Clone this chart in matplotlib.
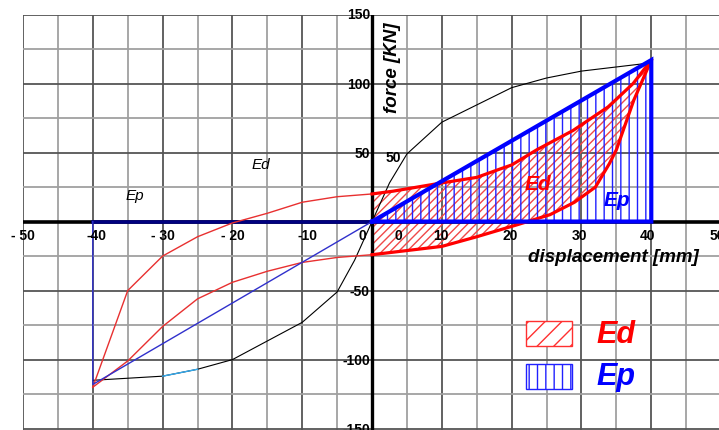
import numpy as np
import matplotlib
matplotlib.use("Agg")
import matplotlib.pyplot as plt
from matplotlib.patches import Rectangle

plt.rcParams['font.family'] = ['Liberation Sans', 'DejaVu Sans']
plt.rcParams['hatch.linewidth'] = 1.0

##############################################################################
# dados (displacement [mm], force [KN])

# curva envoltoria (preta)
env_x = [-40, -30, -25, -20, -10, -5, -2.5, 0, 2.5, 5, 10, 20, 25, 30, 35, 40]
env_y = [-115, -112, -107, -100, -73, -51, -28, 0, 28, 49, 72, 97, 104, 109, 112, 115]
# trecho azul claro da envoltoria
env_cyan_x = [-30, -25]
env_cyan_y = [-112, -107]

# laco esquerdo (vermelho fino)
left_up_x = [-40, -35, -30, -25, -20, -15, -10, -5, 0]
left_up_y = [-120, -50, -25, -11, -1, 6, 14, 18, 20]
left_dn_x = [0, -5, -10, -15, -20, -25, -30, -35, -40]
left_dn_y = [-24, -26, -29.6, -36, -44, -56, -76, -101, -120]

# laco direito (vermelho grosso) -> area Ed
right_up_x = [0, 3, 10, 15, 18.3, 20, 23.6, 28.8, 33.8, 37.4, 40]
right_up_y = [20, 22, 28, 32, 38, 41, 52, 66, 83, 100, 117]
right_dn_x = [40, 37.5, 35, 34, 32, 29, 25.5, 21, 15, 10, 5, 0]
right_dn_y = [117, 88, 52, 42, 25, 14, 5, -2, -11, -18, -21, -24]

# triangulo Ep
ep_x = [0, 40, 40]
ep_y = [0, 117, 0]
# linha azul fina do lado negativo
ep_left_x = [-40, -40, 0]
ep_left_y = [0, -118, 0]

# rotulos dos eixos
xtick_pos = [-50, -39.5, -30, -20, -9.2, -1.4, 3.7, 9.9, 19.8, 29.7, 39.5, 49.5]
xtick_txt = ['- 50', '-40', '- 30', '- 20', '-10', '0', '0', '10', '20', '30', '40', '50']
ytick_pos = [150, 100, 50, -50, -100, -150]
ytick_txt = ['150', '100', '50', '-50', '-100', '-150']


##############################################################################
# grafico

fig = plt.figure(figsize=(7.19, 4.31), dpi=100)
ax = fig.add_axes([23 / 719, 0, 1 - 23 / 719, 1 - 15.5 / 431])
ax.set_xlim(-50, 49.7)
ax.set_ylim(-151, 150)
ax.axis('off')

# grade
for gx in np.arange(-50, 51, 5):
    major = gx % 10 == 0
    ax.axvline(gx, color='#555555' if major else '#a0a0a0', lw=1.3, zorder=0)
for gy in np.arange(-150, 151, 25):
    major = gy % 50 == 0
    ax.axhline(gy, color='#555555' if major else '#a0a0a0', lw=1.3, zorder=0)

# hachuras
rx = right_up_x + right_dn_x
ry = right_up_y + right_dn_y
ax.fill(rx, ry, facecolor='none', edgecolor='#f04848', hatch='////', lw=0, zorder=2)
ax.fill(ep_x, ep_y, facecolor='none', edgecolor='#2020ff', hatch='||', lw=0, zorder=3)

# eixos
ax.axhline(0, color='black', lw=2.6, zorder=4)
ax.axvline(0, color='black', lw=2.4, zorder=4)
ax.plot([-40, 0], [0, 0], color='#000080', lw=2.6, zorder=5)

# curvas
ax.plot(env_x, env_y, color='black', lw=0.8, zorder=6)
ax.plot(env_cyan_x, env_cyan_y, color='#33aaee', lw=1.0, zorder=7)
ax.plot(left_up_x, left_up_y, color='#e83030', lw=1.0, zorder=6)
ax.plot(left_dn_x, left_dn_y, color='#e83030', lw=1.0, zorder=6)
ax.plot(ep_left_x, ep_left_y, color='#3030cc', lw=1.0, zorder=6)
ax.plot(right_up_x, right_up_y, color='#ff0000', lw=2.3, zorder=7)
ax.plot(right_dn_x, right_dn_y, color='#ff0000', lw=2.3, zorder=7)
ax.plot(ep_x + [0], ep_y + [0], color='#0000ff', lw=3.0, zorder=8, solid_joinstyle='miter')

# rotulos de escala
for px, t in zip(xtick_pos, xtick_txt):
    ax.text(px, -9.5, t, ha='center', va='center', fontsize=10, fontweight='bold',
            zorder=9, clip_on=False)
for py, t in zip(ytick_pos, ytick_txt):
    ax.text(-0.3, py, t, ha='right', va='center', fontsize=10, fontweight='bold',
            zorder=9, clip_on=False)
ax.text(3.1, 47, '50', ha='center', va='center', fontsize=10, fontweight='bold', zorder=9)

ax.text(2.9, 112, 'force [KN]', rotation=90, ha='center', va='center', fontsize=13.5,
        fontweight='bold', fontstyle='italic', zorder=9)
ax.text(34.5, -25.3, 'displacement [mm]', ha='center', va='center', fontsize=13.5,
        fontweight='bold', fontstyle='italic', zorder=9)

# textos
ax.text(-16, 42, 'Ed', ha='center', va='center', fontsize=11, fontstyle='italic', zorder=9)
ax.text(-34, 19.5, 'Ep', ha='center', va='center', fontsize=11, fontstyle='italic', zorder=9)
ax.text(23.8, 27.5, 'Ed', ha='center', va='center', fontsize=15, fontweight='bold',
        fontstyle='italic', color='#ff0000', zorder=9)
ax.text(35.1, 16, 'Ep', ha='center', va='center', fontsize=15, fontweight='bold',
        fontstyle='italic', color='#0000ff', zorder=9)

# legenda
ax.add_patch(Rectangle((22.1, -90.3), 6.6, 18.1, facecolor='white', edgecolor='#ff3030',
                       hatch='//', lw=1.0, zorder=9))
ax.add_patch(Rectangle((22.1, -121.3), 6.6, 18.1, facecolor='white', edgecolor='#2020ff',
                       hatch='||', lw=1.0, zorder=9))
ax.text(32.2, -81.5, 'Ed', ha='left', va='center', fontsize=22, fontweight='bold',
        fontstyle='italic', color='#ff0000', zorder=9)
ax.text(32.2, -112, 'Ep', ha='left', va='center', fontsize=22, fontweight='bold',
        fontstyle='italic', color='#0000ff', zorder=9)

fig.savefig('out.png', dpi=100, facecolor='white')
